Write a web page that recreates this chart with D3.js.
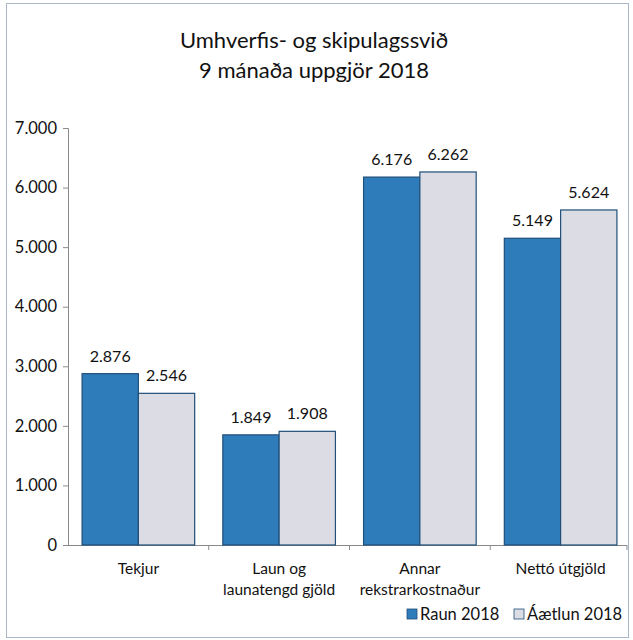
<!DOCTYPE html>
<html>
<head>
<meta charset="utf-8">
<script src="https://cdn.jsdelivr.net/npm/d3@7"></script>
<style>
    body { margin: 0; background: #fff; }
    svg { font-family: Lato, "Open Sans", sans-serif; }
</style>
</head>
<body>
<div id="chart"></div>
<script>
// data
var categories = [["Tekjur"], ["Laun og", "launatengd gjöld"], ["Annar", "rekstrarkostnaður"], ["Nettó útgjöld"]];
var seriesNames = ["Raun 2018", "Áætlun 2018"];
var raun = [2876, 1849, 6176, 5149];
var aaetlun = [2546, 1908, 6262, 5624];
var yTicks = [0, 1000, 2000, 3000, 4000, 5000, 6000, 7000];

var colors = ["#2f7cba", "#dcdce4"];

var width = 633, height = 640;
var margin = {top: 128, right: 2, bottom: 95, left: 68};

var svg = d3.select("#chart").append("svg")
    .attr("width", width)
    .attr("height", height);

// frame
svg.append("rect")
    .attr("x", 6.5).attr("y", 3.5)
    .attr("width", 622).attr("height", 634)
    .attr("fill", "#fff")
    .attr("stroke", "#a9b8c8")
    .attr("stroke-width", 1);

// title
var title = svg.append("text")
    .attr("text-anchor", "middle")
    .style("font-size", "22px")
    .style("fill", "#111");
title.append("tspan").attr("x", 314).attr("y", 48).text("Umhverfis- og skipulagssvið");
title.append("tspan").attr("x", 314).attr("y", 78).text("9 mánaða uppgjör 2018");

var rows = categories.map(function(c, i) {
    return {idx: i, label: c, values: [raun[i], aaetlun[i]]};
});

var x0 = d3.scaleBand()
    .domain(d3.range(categories.length))
    .range([margin.left, width - margin.right])
    .paddingInner(0.2)
    .paddingOuter(0.1);

var x1 = d3.scaleBand()
    .domain([0, 1])
    .range([0, x0.bandwidth()]);

var y = d3.scaleLinear()
    .domain([0, 7000])
    .range([height - margin.bottom, margin.top]);

var fmt = function(v) { return d3.format(",")(v).replace(/,/g, "."); };

// y axis
var yAxis = svg.append("g")
    .attr("transform", "translate(" + margin.left + ",0)")
    .call(d3.axisLeft(y).tickValues(yTicks).tickSize(5).tickPadding(6).tickFormat(fmt));
yAxis.select(".domain").attr("stroke", "#8a8a8a");
yAxis.selectAll(".tick line").attr("stroke", "#8a8a8a");
yAxis.selectAll(".tick text")
    .style("font-size", "16.5px")
    .style("font-family", "Lato, 'Open Sans', sans-serif")
    .attr("fill", "#111");

// x axis line and ticks at category boundaries
var step = x0.step();
svg.append("line")
    .attr("x1", margin.left).attr("x2", width - margin.right - 4)
    .attr("y1", y(0) + 0.5).attr("y2", y(0) + 0.5)
    .attr("stroke", "#8a8a8a");
svg.selectAll(".xtick")
    .data(d3.range(1, categories.length + 1))
    .enter().append("line")
    .attr("class", "xtick")
    .attr("x1", function(i) { return margin.left + i * step - (i === categories.length ? 4 : 0); })
    .attr("x2", function(i) { return margin.left + i * step - (i === categories.length ? 4 : 0); })
    .attr("y1", y(0)).attr("y2", y(0) + 5)
    .attr("stroke", "#8a8a8a");

// bars
var groups = svg.selectAll(".grp")
    .data(rows)
    .enter().append("g")
    .attr("class", "grp")
    .attr("transform", function(d) { return "translate(" + x0(d.idx) + ",0)"; });

groups.selectAll("rect")
    .data(function(d) { return d.values.map(function(v, j) { return {v: v, j: j}; }); })
    .enter().append("rect")
    .attr("x", function(d) { return x1(d.j); })
    .attr("y", function(d) { return y(d.v); })
    .attr("width", x1.bandwidth())
    .attr("height", function(d) { return y(0) - y(d.v); })
    .attr("fill", function(d) { return colors[d.j]; })
    .attr("stroke", "#1f4f7a")
    .attr("stroke-width", 1.2);

groups.selectAll(".val")
    .data(function(d) { return d.values.map(function(v, j) { return {v: v, j: j}; }); })
    .enter().append("text")
    .attr("class", "val")
    .attr("x", function(d) { return x1(d.j) + x1.bandwidth() / 2; })
    .attr("y", function(d) { return y(d.v) - 12; })
    .attr("text-anchor", "middle")
    .style("font-size", "16px")
    .attr("fill", "#111")
    .text(function(d) { return fmt(d.v); });

// category labels
var catText = svg.selectAll(".cat")
    .data(rows)
    .enter().append("text")
    .attr("class", "cat")
    .attr("text-anchor", "middle")
    .style("font-size", "15.5px")
    .attr("fill", "#111");
catText.each(function(d) {
    var t = d3.select(this);
    d.label.forEach(function(line, k) {
        t.append("tspan")
            .attr("x", x0(d.idx) + x0.bandwidth() / 2)
            .attr("y", y(0) + 29 + k * 21)
            .text(line);
    });
});

// legend
var legendX = [407, 514];
var leg = svg.selectAll(".leg")
    .data(seriesNames)
    .enter().append("g")
    .attr("class", "leg")
    .attr("transform", function(d, i) { return "translate(" + legendX[i] + ",609)"; });
leg.append("rect")
    .attr("width", 10).attr("height", 10)
    .attr("fill", function(d, i) { return colors[i]; })
    .attr("stroke", "#1f4f7a")
    .attr("stroke-width", 0.8);
leg.append("text")
    .attr("x", 13).attr("y", 11)
    .style("font-size", "16.5px")
    .attr("fill", "#111")
    .text(function(d) { return d; });
</script>
</body>
</html>
